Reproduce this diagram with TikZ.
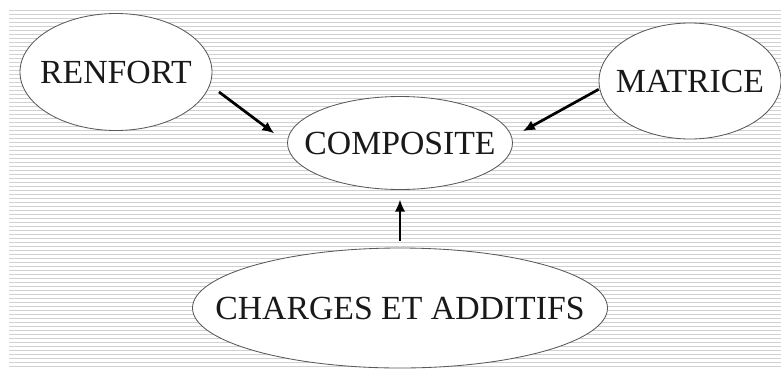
\documentclass[tikz,border=0pt]{standalone}
\usepackage{fontspec}
\setmainfont{Liberation Serif}
\usetikzlibrary{shapes.geometric, arrows, arrows.meta}
\tikzstyle{bubble} = [ellipse, text centered, draw=black!65, line width=0.6pt, fill=white, text=black!90, inner sep=0pt, font=\fontsize{24}{28}\selectfont]
\tikzstyle{stripe} = [black!18, line width=0.7pt]
\tikzstyle{arrow} = [line width=1.9pt, -{Latex[length=0.3cm, width=0.26cm]}]
\newcommand{\lbl}[1]{\makebox[0pt]{#1}}

\begin{document}
\begin{tikzpicture}[node distance=2cm]

\useasboundingbox (0,0) rectangle (19.525,9.225);
\fill[white] (0,0) rectangle (19.525,9.225);
\foreach \k in {0,...,89}
  \draw[stripe] (0.225,8.975-0.1*\k) -- (19.525,8.975-0.1*\k);

\node (composite) [bubble, minimum width=5.625cm, minimum height=2.325cm] at (10,5.65) {\lbl{COMPOSITE}};
\node (renfort) [bubble, minimum width=4.8cm, minimum height=2.925cm, left of=composite, xshift=-5.1cm, yshift=1.775cm] {\lbl{RENFORT}};
\node (matrice) [bubble, minimum width=4.55cm, minimum height=2.9cm, right of=composite, xshift=5.25cm, yshift=1.55cm] {\lbl{MATRICE}};
\node (charges) [bubble, minimum width=10.375cm, minimum height=3cm, below of=composite, yshift=-2.125cm] {\lbl{CHARGES ET ADDITIFS}};

\draw [arrow, shorten <=0.28cm, shorten >=0.4cm] (renfort.-8) -- (composite.west);
\draw [arrow, shorten <=0.02cm, shorten >=0.31cm] (matrice.185) -- (composite.3);
\draw [arrow, shorten <=0.175cm, shorten >=0.24cm] (charges.north) -- (composite.south);

\end{tikzpicture}
\end{document}
